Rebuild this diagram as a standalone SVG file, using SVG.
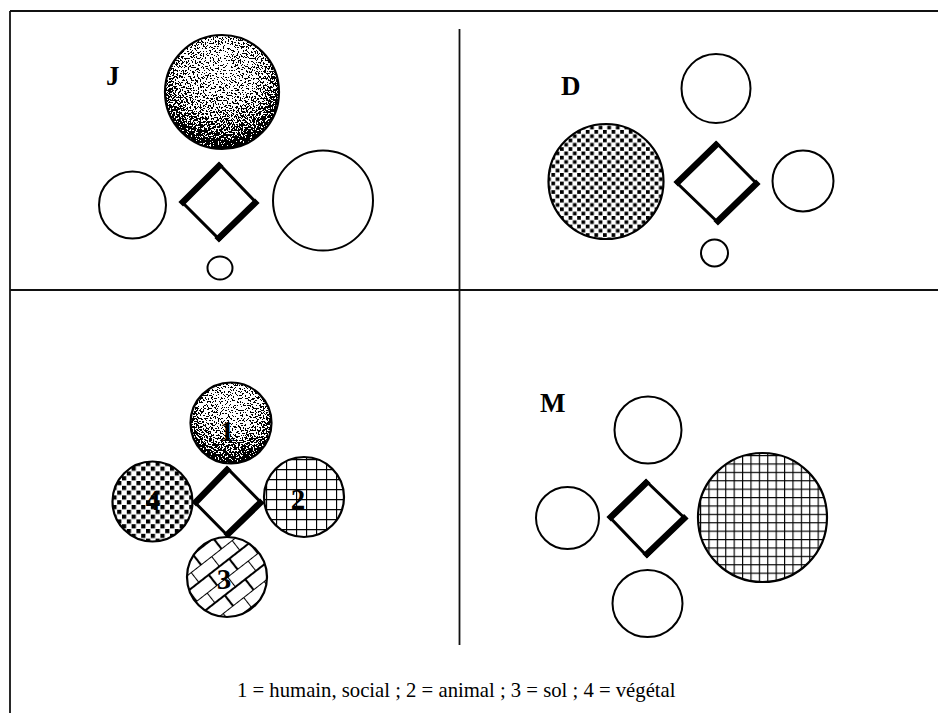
<svg xmlns="http://www.w3.org/2000/svg" width="938" height="713" viewBox="0 0 938 713">
<style>
.frame{stroke:#111;stroke-width:1.8;fill:none}
.c{fill:#fff;stroke:#000;stroke-width:2}
.co{fill:none;stroke:#000;stroke-width:2.2}
.dia{fill:#fff;stroke:#000;stroke-width:3;stroke-linejoin:miter}
.thick{stroke:#000;stroke-width:6.5;stroke-linecap:square;fill:none}
.lab{font-family:"Liberation Serif","Times New Roman",serif;font-weight:bold;font-size:27px;fill:#000}
.num{font-family:"Liberation Serif","Times New Roman",serif;font-weight:bold;font-size:29px;fill:#000;text-anchor:middle}
.leg{font-family:"Liberation Serif","Times New Roman",serif;font-size:20.7px;fill:#000}
</style>
<defs>
<radialGradient id="sg" cx="0.5" cy="0.32" r="0.74" fx="0.5" fy="0.28">
<stop offset="0" stop-color="#dcdcdc"/>
<stop offset="0.45" stop-color="#ababab"/>
<stop offset="0.72" stop-color="#666"/>
<stop offset="0.88" stop-color="#141414"/>
<stop offset="1" stop-color="#000"/>
</radialGradient>
<filter id="stip" color-interpolation-filters="sRGB">
<feColorMatrix in="SourceGraphic" type="matrix" values="0 0 0 0 0  0 0 0 0 0  0 0 0 0 0  -1 0 0 0 1" result="d"/>
<feTurbulence type="fractalNoise" baseFrequency="0.6" numOctaves="3" seed="7" result="t"/>
<feColorMatrix in="t" type="matrix" values="0 0 0 0 0  0 0 0 0 0  0 0 0 0 0  3 0 0 0 -1" result="n"/>
<feComposite in="d" in2="n" operator="arithmetic" k1="0" k2="1" k3="-1" k4="0.5" result="diff"/>
<feComponentTransfer in="diff" result="th">
<feFuncR type="linear" slope="0" intercept="0"/>
<feFuncG type="linear" slope="0" intercept="0"/>
<feFuncB type="linear" slope="0" intercept="0"/>
<feFuncA type="discrete" tableValues="0 1"/>
</feComponentTransfer>
<feComposite in="th" in2="SourceAlpha" operator="in"/>
</filter>
<pattern id="sq" patternUnits="userSpaceOnUse" width="8.6" height="8.6" patternTransform="translate(1 1)">
<rect x="0" y="0" width="3.7" height="3.7" fill="#000"/>
<rect x="4.3" y="4.3" width="3.7" height="3.7" fill="#000"/>
</pattern>
<pattern id="sq4" patternUnits="userSpaceOnUse" width="9.6" height="9.6" patternTransform="translate(2 1)">
<rect x="0" y="0" width="4.2" height="4.2" fill="#000"/>
<rect x="4.8" y="4.8" width="4.2" height="4.2" fill="#000"/>
</pattern>
<pattern id="grid8" patternUnits="userSpaceOnUse" width="8.4" height="8.4" patternTransform="translate(700 455)">
<path d="M0 0H8.4M0 0V8.4" stroke="#000" stroke-width="2.3" fill="none"/>
</pattern>
<pattern id="grid10" patternUnits="userSpaceOnUse" width="10" height="10" patternTransform="translate(266 459)">
<path d="M0 0H10M0 0V10" stroke="#000" stroke-width="2.3" fill="none"/>
</pattern>
<pattern id="brick" patternUnits="userSpaceOnUse" width="26" height="26" patternTransform="translate(227 577) rotate(-38)">
<path d="M0 0H26M0 13H26M0 0V13M13 13V26" stroke="#000" stroke-width="2.1" fill="none"/>
</pattern>
</defs>

<g id="frame">
<line class="frame" x1="10" y1="11" x2="938" y2="11"/>
<line class="frame" x1="10" y1="11" x2="10" y2="713"/>
<line class="frame" x1="10" y1="290" x2="938" y2="290"/>
<line class="frame" x1="459.5" y1="29" x2="459.5" y2="290"/>
<line class="frame" x1="459.5" y1="290" x2="459.5" y2="645"/>
</g>

<g id="panel-J">
<text class="lab" x="106" y="85">J</text>
<g id="J-top">
<circle cx="222" cy="92" r="57" fill="#fff"/>
<circle cx="222" cy="92" r="57" fill="url(#sg)" filter="url(#stip)"/>
<circle class="co" cx="222" cy="92" r="57"/>
</g>
<circle id="J-left" class="c" cx="132.5" cy="205" r="33.5"/>
<g id="J-diamond">
<polygon class="dia" points="182,202 219.5,164.5 256,202.5 219.5,239.5"/>
<path class="thick" d="M183 202L219 166M255 203L219 238"/>
</g>
<circle id="J-right" class="c" cx="323" cy="200.5" r="50"/>
<ellipse id="J-bottom" class="c" cx="220" cy="268" rx="12.5" ry="11.5"/>
</g>

<g id="panel-D">
<text class="lab" x="561" y="95">D</text>
<circle id="D-top" class="c" cx="716" cy="88.5" r="34.5"/>
<g id="D-left">
<circle cx="606" cy="181.5" r="57.5" fill="url(#sq)"/>
<circle class="co" cx="606" cy="181.5" r="57.5"/>
</g>
<g id="D-diamond">
<polygon class="dia" points="676.5,182.5 716.5,143 757,184 718,222.5"/>
<path class="thick" d="M678 182L716 145M756 184L718 221"/>
</g>
<circle id="D-right" class="c" cx="803" cy="181" r="30.5"/>
<circle id="D-bottom" class="c" cx="714.5" cy="253" r="13.5"/>
</g>

<g id="panel-legend">
<g id="L-1">
<circle cx="231" cy="423" r="40.5" fill="#fff"/>
<circle cx="231" cy="423" r="40.5" fill="url(#sg)" filter="url(#stip)"/>
<circle class="co" cx="231" cy="423" r="40.5"/>
<text class="num" x="227" y="441">1</text>
</g>
<g id="L-4">
<circle cx="152.5" cy="501.5" r="40" fill="#fff"/>
<circle cx="152.5" cy="501.5" r="40" fill="url(#sq4)"/>
<circle class="co" cx="152.5" cy="501.5" r="40"/>
<text class="num" x="153" y="510">4</text>
</g>
<g id="L-diamond">
<polygon class="dia" points="194.5,502 227.5,468.5 261,502.5 227.5,535.5"/>
<path class="thick" d="M196 502L227 470M260 503L228 534"/>
</g>
<g id="L-2">
<circle cx="304" cy="497" r="40" fill="#fff"/>
<circle cx="304" cy="497" r="40" fill="url(#grid10)"/>
<circle class="co" cx="304" cy="497" r="40"/>
<text class="num" x="298" y="509">2</text>
</g>
<g id="L-3">
<circle cx="227" cy="577" r="40" fill="#fff"/>
<circle cx="227" cy="577" r="40" fill="url(#brick)"/>
<circle class="co" cx="227" cy="577" r="40"/>
<text class="num" x="224" y="589">3</text>
</g>
</g>

<g id="panel-M">
<text class="lab" x="540" y="412">M</text>
<circle id="M-top" class="c" cx="648" cy="430" r="33.5"/>
<ellipse id="M-left" class="c" cx="567.5" cy="518" rx="31.5" ry="31"/>
<g id="M-diamond">
<polygon class="dia" points="609.5,517 646,481 685,518.5 647,556"/>
<path class="thick" d="M611 517L646 483M684 518.5L647 554"/>
</g>
<g id="M-right">
<circle cx="762.5" cy="517.5" r="64.5" fill="#fff"/>
<circle cx="762.5" cy="517.5" r="64.5" fill="url(#grid8)"/>
<circle class="co" cx="762.5" cy="517.5" r="64.5"/>
</g>
<ellipse id="M-bottom" class="c" cx="647.5" cy="603.5" rx="35" ry="33.5"/>
</g>

<text class="leg" x="237" y="697">1 = humain, social ; 2 = animal ; 3 = sol ; 4 = végétal</text>
</svg>
